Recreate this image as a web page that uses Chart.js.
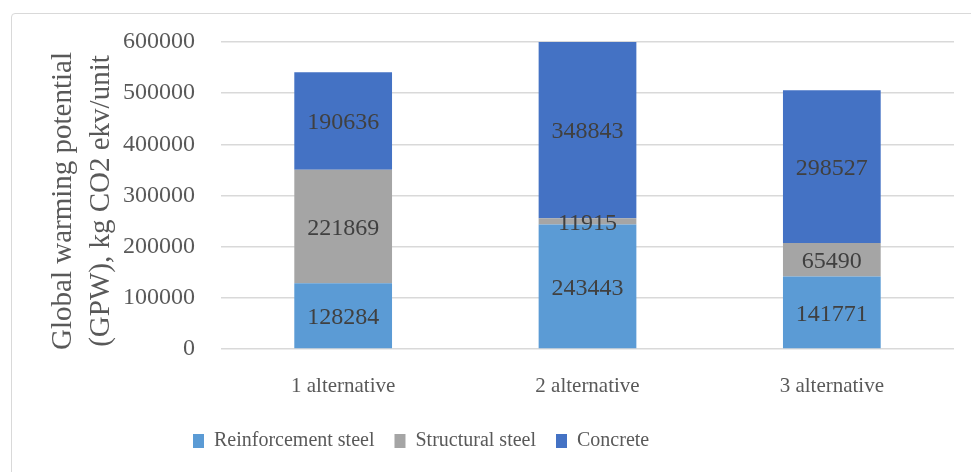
<!DOCTYPE html>
<html>
<head>
<meta charset="utf-8">
<script src="https://cdn.jsdelivr.net/npm/chart.js@4.4.1/dist/chart.umd.min.js"></script>
<style>
  html, body { margin: 0; padding: 0; background: #ffffff; }
  #wrap { position: relative; width: 971px; height: 472px; overflow: hidden; }
  #frame { position: absolute; left: 11px; top: 13px; width: 1000px; height: 520px;
           border: 1.5px solid #d9d9d9; border-radius: 4px; box-sizing: border-box; }
  #c { position: absolute; left: 0; top: 0; }
</style>
</head>
<body>
<div id="wrap">
  <div id="frame"></div>
  <canvas id="c" width="971" height="472"></canvas>
</div>
<script>
// Global warming potential per alternative, split by material
const categories = ['1 alternative', '2 alternative', '3 alternative'];
const reinforcementSteel = [128284, 243443, 141771];
const structuralSteel = [221869, 11915, 65490];
const concrete = [190636, 348843, 298527];
const yTicks = [0, 100000, 200000, 300000, 400000, 500000, 600000];
const yTitle = ['Global warming potential', '(GPW), kg CO2 ekv/unit'];

const SERIF = '"Liberation Serif", "DejaVu Serif", serif';
const TEXT = '#595959';
Chart.defaults.font.family = SERIF;
Chart.defaults.color = TEXT;

// Value labels centred in the visible part of each stacked segment
const segmentLabels = {
  id: 'segmentLabels',
  afterDatasetsDraw(chart) {
    const { ctx, chartArea } = chart;
    ctx.save();
    ctx.font = '24px ' + SERIF;
    ctx.fillStyle = '#404040';
    ctx.textAlign = 'center';
    ctx.textBaseline = 'middle';
    chart.data.datasets.forEach((ds, i) => {
      const meta = chart.getDatasetMeta(i);
      meta.data.forEach((bar, j) => {
        const { x, y, base } = bar.getProps(['x', 'y', 'base'], true);
        const top = Math.max(Math.min(y, base), chartArea.top);
        const bottom = Math.min(Math.max(y, base), chartArea.bottom);
        ctx.fillText(String(ds.data[j]), x, (top + bottom) / 2 + 2);
      });
    });
    ctx.restore();
  }
};

// Two-line rotated title for the value axis
const axisTitle = {
  id: 'axisTitle',
  afterDraw(chart) {
    const { ctx } = chart;
    ctx.save();
    ctx.font = '29px ' + SERIF;
    ctx.fillStyle = TEXT;
    ctx.textAlign = 'center';
    ctx.textBaseline = 'middle';
    ctx.translate(63, 201);
    ctx.rotate(-Math.PI / 2);
    ctx.fillText(yTitle[0], 0, 0);
    ctx.fillText(yTitle[1], 0, 38);
    ctx.restore();
  }
};

// Start the legend row under the value axis labels rather than at the canvas edge
const legendIndent = {
  id: 'legendIndent',
  afterLayout(chart) {
    if (chart.legend) chart.legend.left = 173;
  }
};

new Chart(document.getElementById('c'), {
  type: 'bar',
  data: {
    labels: categories,
    datasets: [
      { label: 'Reinforcement steel', data: reinforcementSteel, backgroundColor: '#5b9bd5' },
      { label: 'Structural steel', data: structuralSteel, backgroundColor: '#a5a5a5' },
      { label: 'Concrete', data: concrete, backgroundColor: '#4472c4' }
    ]
  },
  options: {
    responsive: false,
    animation: false,
    devicePixelRatio: 1,
    layout: { padding: { left: 0, right: 17, top: 42, bottom: 11 } },
    datasets: { bar: { categoryPercentage: 0.8, barPercentage: 0.5 } },
    scales: {
      x: {
        stacked: true,
        grid: { display: false },
        border: { display: false },
        ticks: { color: TEXT, font: { family: SERIF, size: 21 }, padding: 17 },
        afterFit(s) { s.height = 62; }
      },
      y: {
        stacked: true,
        min: 0,
        max: 600000,
        afterBuildTicks(s) { s.ticks = yTicks.map(v => ({ value: v })); },
        grid: { color: '#d9d9d9', lineWidth: 1.5, drawTicks: false },
        border: { display: false },
        ticks: {
          color: TEXT,
          font: { family: SERIF, size: 24 },
          padding: 26,
          callback: v => String(v)
        },
        afterFit(s) { s.width = 221; }
      }
    },
    plugins: {
      tooltip: { enabled: false },
      legend: {
        position: 'bottom',
        align: 'start',
        labels: {
          color: TEXT,
          font: { family: SERIF, size: 20 },
          boxWidth: 11,
          boxHeight: 14,
          padding: 20
        }
      }
    }
  },
  plugins: [segmentLabels, axisTitle, legendIndent]
});
</script>
</body>
</html>
